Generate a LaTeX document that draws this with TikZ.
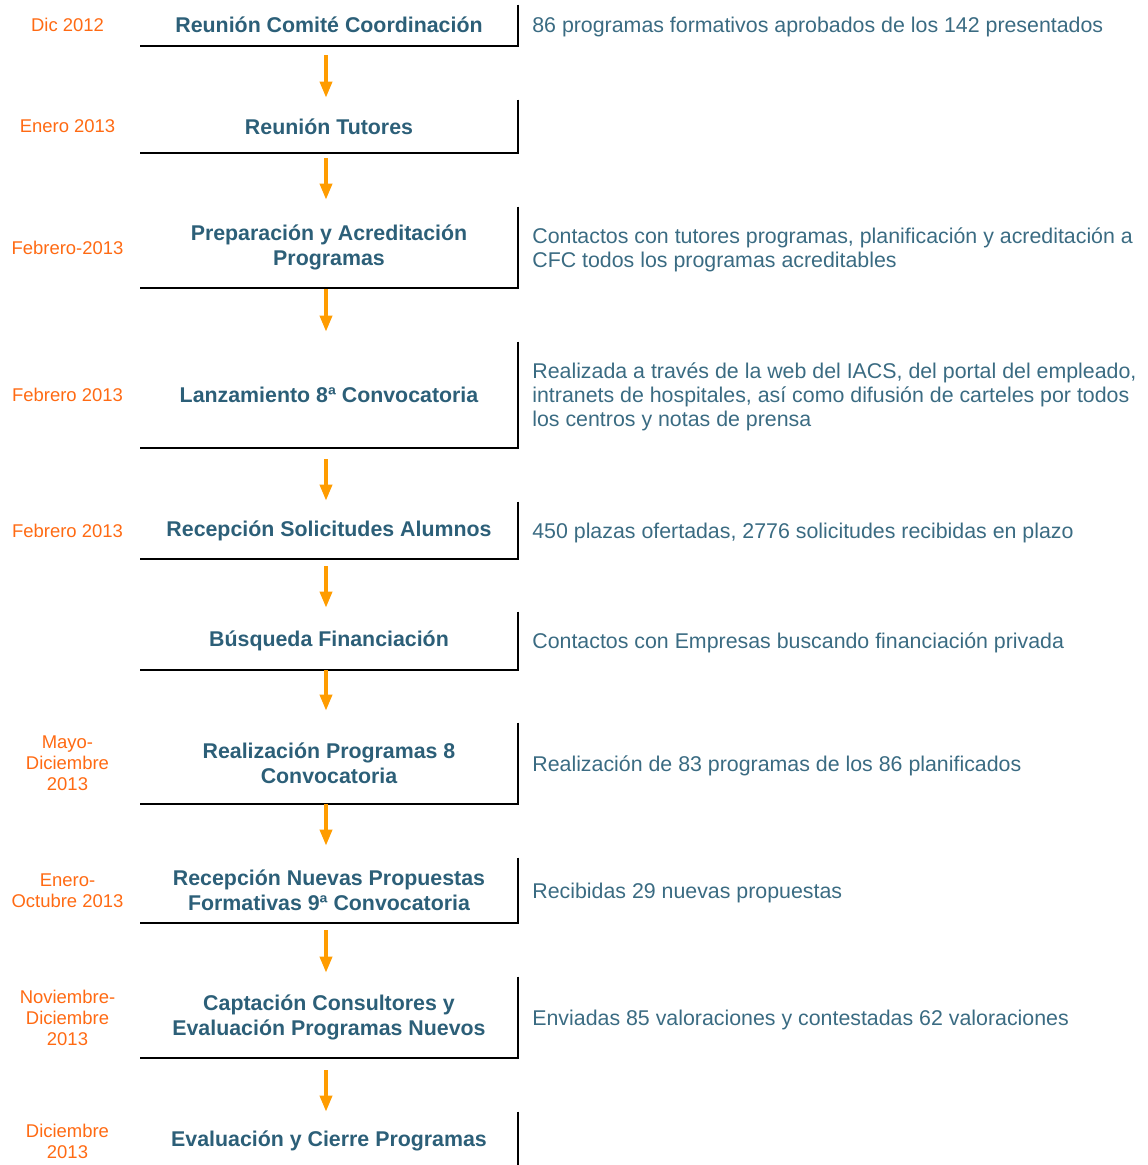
\documentclass[tikz,border=0pt]{standalone}
\usepackage{fontspec}
\setmainfont{Liberation Sans}
\usetikzlibrary{arrows.meta}
\definecolor{titleteal}{HTML}{2C5F78}
\definecolor{noteteal}{HTML}{3A6B82}
\definecolor{dateorange}{HTML}{FF6A13}
\definecolor{arroworange}{HTML}{FF9C00}
\tikzset{
  stepbox/.style={minimum width=7.56cm, inner sep=0pt, align=center, text=titleteal,
    font=\fontsize{12.15pt}{14.2pt}\selectfont\bfseries},
  boxline/.style={draw=black, line width=1.1pt},
  datelbl/.style={align=center, text=dateorange, inner sep=0pt,
    font=\fontsize{10.5pt}{11.9pt}\selectfont},
  notelbl/.style={anchor=west, align=left, text=noteteal, inner sep=0pt, yshift=-0.04cm,
    font=\fontsize{12.15pt}{13.6pt}\selectfont},
  flowarrow/.style={draw=arroworange, line width=2pt, -{Triangle[width=0.24cm,length=0.32cm]}}
}
\begin{document}
\begin{tikzpicture}
  \useasboundingbox (0cm,0cm) rectangle (22.94cm,-23.3cm);
  \node[stepbox, minimum height=0.81cm] (s1) at (6.58cm,-0.505cm) {Reunión Comité Coordinación};
  \draw[boxline] (s1.north east) -- (s1.south east) -- (s1.south west);
  \node[datelbl] (d1) at (1.35cm,-0.505cm) {Dic 2012};
  \node[notelbl] (n1) at (10.64cm,-0.505cm) {86 programas formativos aprobados de los 142 presentados};
  \node[stepbox, minimum height=1.06cm] (s2) at (6.58cm,-2.53cm) {Reunión Tutores};
  \draw[boxline] (s2.north east) -- (s2.south east) -- (s2.south west);
  \node[datelbl] (d2) at (1.35cm,-2.53cm) {Enero 2013};
  \node[stepbox, minimum height=1.62cm] (s3) at (6.58cm,-4.95cm) {Preparación y Acreditación\\Programas};
  \draw[boxline] (s3.north east) -- (s3.south east) -- (s3.south west);
  \node[datelbl] (d3) at (1.35cm,-4.95cm) {Febrero-2013};
  \node[notelbl] (n3) at (10.64cm,-4.95cm) {Contactos con tutores programas, planificación y acreditación a\\CFC todos los programas acreditables};
  \node[stepbox, minimum height=2.12cm] (s4) at (6.58cm,-7.9cm) {Lanzamiento 8ª Convocatoria};
  \draw[boxline] (s4.north east) -- (s4.south east) -- (s4.south west);
  \node[datelbl] (d4) at (1.35cm,-7.9cm) {Febrero 2013};
  \node[notelbl] (n4) at (10.64cm,-7.9cm) {Realizada a través de la web del IACS, del portal del empleado,\\intranets de hospitales, así como difusión de carteles por todos\\los centros y notas de prensa};
  \node[stepbox, minimum height=1.14cm] (s5) at (6.58cm,-10.61cm) {Recepción Solicitudes Alumnos};
  \draw[boxline] (s5.north east) -- (s5.south east) -- (s5.south west);
  \node[datelbl] (d5) at (1.35cm,-10.61cm) {Febrero 2013};
  \node[notelbl] (n5) at (10.64cm,-10.61cm) {450 plazas ofertadas, 2776 solicitudes recibidas en plazo};
  \node[stepbox, minimum height=1.16cm] (s6) at (6.58cm,-12.82cm) {Búsqueda Financiación};
  \draw[boxline] (s6.north east) -- (s6.south east) -- (s6.south west);
  \node[notelbl] (n6) at (10.64cm,-12.82cm) {Contactos con Empresas buscando financiación privada};
  \node[stepbox, minimum height=1.62cm] (s7) at (6.58cm,-15.27cm) {Realización Programas 8\\Convocatoria};
  \draw[boxline] (s7.north east) -- (s7.south east) -- (s7.south west);
  \node[datelbl] (d7) at (1.35cm,-15.27cm) {Mayo-\\Diciembre\\2013};
  \node[notelbl] (n7) at (10.64cm,-15.27cm) {Realización de 83 programas de los 86 planificados};
  \node[stepbox, minimum height=1.3cm] (s8) at (6.58cm,-17.81cm) {Recepción Nuevas Propuestas\\Formativas 9ª Convocatoria};
  \draw[boxline] (s8.north east) -- (s8.south east) -- (s8.south west);
  \node[datelbl] (d8) at (1.35cm,-17.81cm) {Enero-\\Octubre 2013};
  \node[notelbl] (n8) at (10.64cm,-17.81cm) {Recibidas 29 nuevas propuestas};
  \node[stepbox, minimum height=1.62cm] (s9) at (6.58cm,-20.35cm) {Captación Consultores y\\Evaluación Programas Nuevos};
  \draw[boxline] (s9.north east) -- (s9.south east) -- (s9.south west);
  \node[datelbl] (d9) at (1.35cm,-20.35cm) {Noviembre-\\Diciembre\\2013};
  \node[notelbl] (n9) at (10.64cm,-20.35cm) {Enviadas 85 valoraciones y contestadas 62 valoraciones};
  \node[stepbox, minimum height=1.16cm] (s10) at (6.58cm,-22.82cm) {Evaluación y Cierre Programas};
  \draw[boxline] (s10.north east) -- (s10.south east) -- (s10.south west);
  \node[datelbl] (d10) at (1.35cm,-22.82cm) {Diciembre\\2013};
  \draw[flowarrow, shorten <=0.19cm, shorten >=0.04cm] ([xshift=-0.06cm]s1.south) -- ([xshift=-0.06cm]s2.north);
  \draw[flowarrow, shorten <=0.1cm, shorten >=0.14cm] ([xshift=-0.06cm]s2.south) -- ([xshift=-0.06cm]s3.north);
  \draw[flowarrow, shorten <=0.02cm, shorten >=0.2cm] ([xshift=-0.06cm]s3.south) -- ([xshift=-0.06cm]s4.north);
  \draw[flowarrow, shorten <=0.22cm, shorten >=0.02cm] ([xshift=-0.06cm]s4.south) -- ([xshift=-0.06cm]s5.north);
  \draw[flowarrow, shorten <=0.14cm, shorten >=0.08cm] ([xshift=-0.06cm]s5.south) -- ([xshift=-0.06cm]s6.north);
  \draw[flowarrow, shorten >=0.24cm] ([xshift=-0.06cm]s6.south) -- ([xshift=-0.06cm]s7.north);
  \draw[flowarrow, shorten >=0.24cm] ([xshift=-0.06cm]s7.south) -- ([xshift=-0.06cm]s8.north);
  \draw[flowarrow, shorten <=0.14cm, shorten >=0.08cm] ([xshift=-0.06cm]s8.south) -- ([xshift=-0.06cm]s9.north);
  \draw[flowarrow, shorten <=0.24cm] ([xshift=-0.06cm]s9.south) -- ([xshift=-0.06cm]s10.north);
\end{tikzpicture}
\end{document}
